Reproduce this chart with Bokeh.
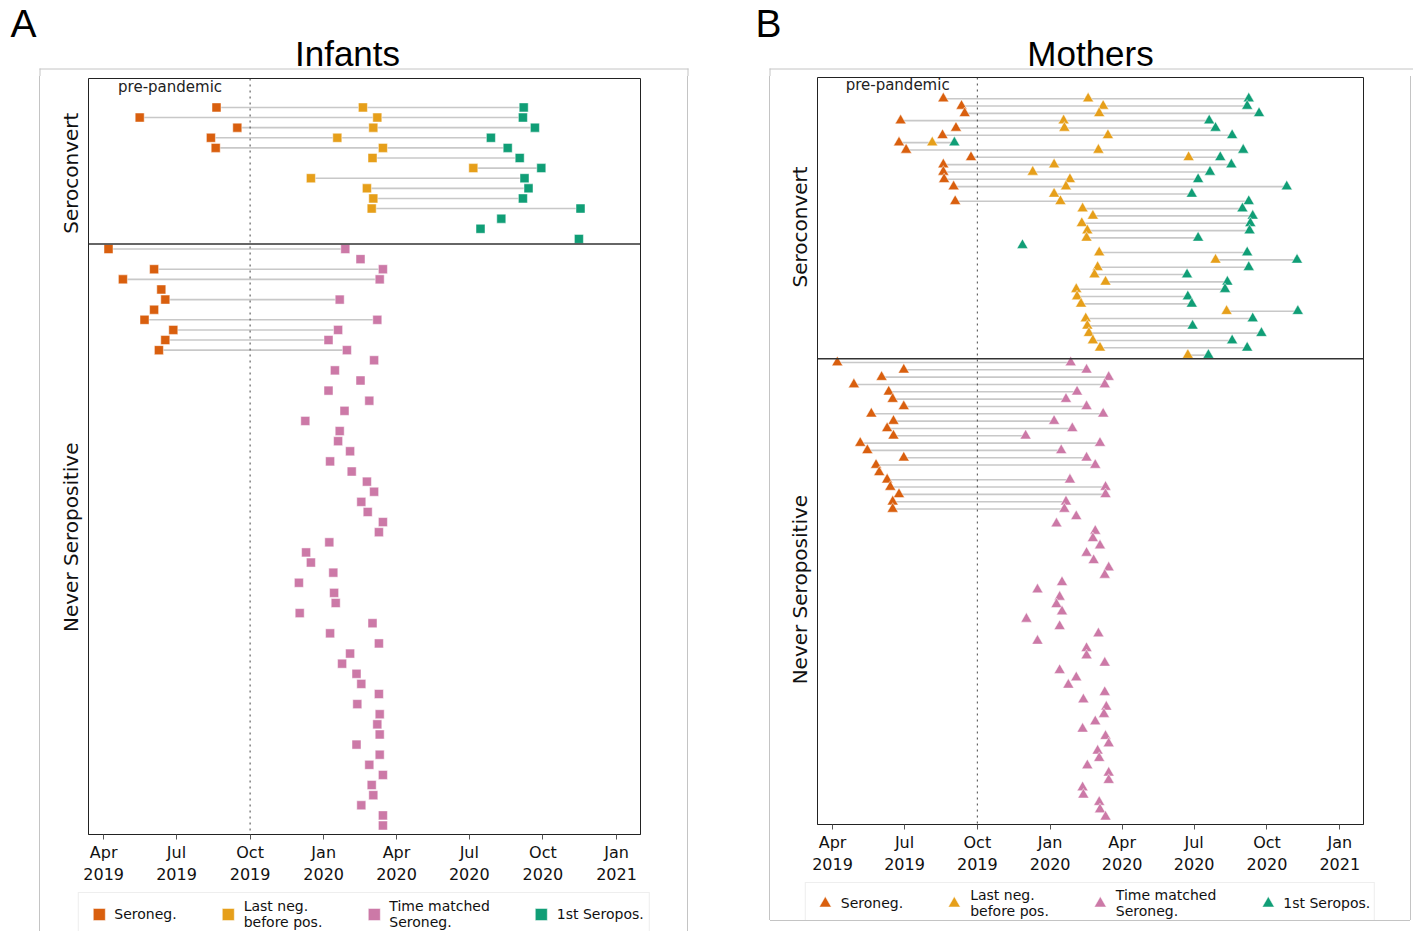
import numpy as np
import pandas as pd
from bokeh.plotting import figure
from bokeh.layouts import row, column
from bokeh.models import (Range1d, Span, Label, Legend, LegendItem, Spacer,
                          FixedTicker, DatetimeTickFormatter, ColumnDataSource)
from bokeh.embed import file_html
from bokeh.resources import INLINE

# ---------------- data ----------------
tick_dates = ["2019-04-01", "2019-07-01", "2019-10-01", "2020-01-01",
              "2020-04-01", "2020-07-01", "2020-10-01", "2021-01-01"]
tick_labels = ["Apr\n2019", "Jul\n2019", "Oct\n2019", "Jan\n2020",
               "Apr\n2020", "Jul\n2020", "Oct\n2020", "Jan\n2021"]
category_labels = ["Seroneg.", "Last neg.\nbefore pos.", "Time matched\nSeroneg.", "1st Seropos."]
group_labels = ["Seroconvert", "Never Seropositive"]
panel_titles = ["Infants", "Mothers"]
panel_letters = ["A", "B"]
pandemic_start = "2019-10-01"
x_start, x_end = "2019-03-13", "2021-01-31"

N = None
# Infants - seroconverters
inf_sc_seroneg = ["2019-08-20", "2019-05-16", "2019-09-15", "2019-08-13", "2019-08-19",
                  N, N, N, N, N, N, N, N, N]
inf_sc_lastneg = ["2020-02-19", "2020-03-08", "2020-03-03", "2020-01-18", "2020-03-15",
                  "2020-03-02", "2020-07-06", "2019-12-16", "2020-02-24", "2020-03-03",
                  "2020-03-01", N, N, N]
inf_sc_firstpos = ["2020-09-07", "2020-09-06", "2020-09-21", "2020-07-28", "2020-08-18",
                   "2020-09-02", "2020-09-29", "2020-09-08", "2020-09-13", "2020-09-06",
                   "2020-11-17", "2020-08-10", "2020-07-15", "2020-11-15"]
# Infants - never seropositive
inf_nv_seroneg = ["2019-04-07", N, "2019-06-03", "2019-04-25", "2019-06-12", "2019-06-17",
                  "2019-06-03", "2019-05-22", "2019-06-27", "2019-06-17", "2019-06-09"] + [N] * 47
inf_nv_matched = ["2020-01-28", "2020-02-16", "2020-03-15", "2020-03-11", N, "2020-01-21",
                  N, "2020-03-08", "2020-01-19", "2020-01-07", "2020-01-30", "2020-03-04",
                  "2020-01-15", "2020-02-16", "2020-01-07", "2020-02-27", "2020-01-27",
                  "2019-12-09", "2020-01-21", "2020-01-19", "2020-02-03", "2020-01-09",
                  "2020-02-05", "2020-02-24", "2020-03-04", "2020-02-17", "2020-02-25",
                  "2020-03-15", "2020-03-10", "2020-01-08", "2019-12-10", "2019-12-16",
                  "2020-01-13", "2019-12-01", "2020-01-14", "2020-01-16", "2019-12-02",
                  "2020-03-02", "2020-01-09", "2020-03-10", "2020-02-03", "2020-01-24",
                  "2020-02-11", "2020-02-17", "2020-03-10", "2020-02-12", "2020-03-11",
                  "2020-03-08", "2020-03-11", "2020-02-11", "2020-03-11", "2020-02-27",
                  "2020-03-15", "2020-03-01", "2020-03-03", "2020-02-17", "2020-03-15",
                  "2020-03-15"]

# Mothers - seroconverters
mom_sc_seroneg = ["2019-08-19", "2019-09-11", "2019-09-15", "2019-06-26", "2019-09-04",
                  "2019-08-18", "2019-06-24", "2019-07-03", "2019-09-23", "2019-08-19",
                  "2019-08-19", "2019-08-20", "2019-09-01", N, "2019-09-03"] + [N] * 21
mom_sc_lastneg = ["2020-02-18", "2020-03-08", "2020-03-03", "2020-01-18", "2020-01-19",
                  "2020-03-14", "2019-08-05", "2020-03-02", "2020-06-24", "2020-01-06",
                  "2019-12-10", "2020-01-26", "2020-01-21", "2020-01-06", "2020-01-14",
                  "2020-02-11", "2020-02-24", "2020-02-10", "2020-02-17", "2020-02-16",
                  N, "2020-03-03", "2020-07-28", "2020-03-01", "2020-02-26",
                  "2020-03-11", "2020-02-03", "2020-02-04", "2020-02-09", "2020-08-11",
                  "2020-02-15", "2020-02-17", "2020-02-19", "2020-02-24", "2020-03-04",
                  "2020-06-23"]
mom_sc_firstpos = ["2020-09-08", "2020-09-06", "2020-09-21", "2020-07-20", "2020-07-28",
                   "2020-08-18", "2019-09-02", "2020-09-01", "2020-08-03", "2020-08-17",
                   "2020-07-21", "2020-07-06", "2020-10-26", "2020-06-28", "2020-09-08",
                   "2020-08-31", "2020-09-13", "2020-09-10", "2020-09-09", "2020-07-06",
                   "2019-11-27", "2020-09-06", "2020-11-08", "2020-09-08", "2020-06-22",
                   "2020-08-12", "2020-08-09", "2020-06-23", "2020-06-28", "2020-11-09",
                   "2020-09-13", "2020-06-29", "2020-09-24", "2020-08-18", "2020-09-06",
                   "2020-07-19"]
# Mothers - never seropositive
mom_nv_seroneg = ["2019-04-07", "2019-06-30", "2019-06-02", "2019-04-28", "2019-06-11",
                  "2019-06-16", "2019-06-30", "2019-05-20", "2019-06-17", "2019-06-09",
                  "2019-06-17", "2019-05-06", "2019-05-15", "2019-06-30", "2019-05-26",
                  "2019-05-30", "2019-06-09", "2019-06-13", "2019-06-24", "2019-06-16",
                  "2019-06-16"] + [N] * 42
mom_nv_matched = ["2020-01-27", "2020-02-16", "2020-03-15", "2020-03-10", "2020-02-04",
                  "2020-01-21", "2020-02-16", "2020-03-08", "2020-01-06", "2020-01-29",
                  "2019-12-01", "2020-03-04", "2020-01-15", "2020-02-16", "2020-02-27",
                  N, "2020-01-26", "2020-03-11", "2020-03-11", "2020-01-21",
                  "2020-01-19", "2020-02-03", "2020-01-09", "2020-02-27", "2020-02-24",
                  "2020-03-04", "2020-02-16", "2020-02-25", "2020-03-15", "2020-03-10",
                  "2020-01-16", "2019-12-16", "2020-01-13", "2020-01-09", "2020-01-16",
                  "2019-12-02", "2020-01-13", "2020-03-02", "2019-12-16", "2020-02-16",
                  "2020-02-16", "2020-03-10", "2020-01-13", "2020-02-03", "2020-01-24",
                  "2020-03-10", "2020-02-12", "2020-03-12", "2020-03-09", "2020-02-27",
                  "2020-02-11", "2020-03-11", "2020-03-15", "2020-03-01", "2020-03-03",
                  "2020-02-17", "2020-03-15", "2020-03-15", "2020-02-11", "2020-02-12",
                  "2020-03-03", "2020-03-04", "2020-03-11"]

# ---------------- style ----------------
KEYS = ["neg", "last", "match", "pos"]
COLORS = {"neg": "#d95f0e", "last": "#e69f1a", "match": "#cc79a7", "pos": "#109e76"}
FONT = "DejaVu Sans"
TITLE_FONT = "Liberation Sans"
BOX_COLOR = "#c4c4c4"
PAGE_W = 1413
HEADER_H = 76
BOX_TOP = 68
# panel frame: side and bottom edges as box-shadows (no effect on layout)
BOX_STYLE = {"box-shadow": f"-1px 0 0 0 {BOX_COLOR}, 1px 0 0 0 {BOX_COLOR}, 0 1px 0 0 {BOX_COLOR}"}
NO_BORDER = dict(min_border=0, min_border_left=0, min_border_right=0,
                 min_border_top=0, min_border_bottom=0)


def ms(s):
    return pd.Timestamp(s).value / 1e6


def marker_kw(k, marker, msize):
    return dict(marker=marker, size=msize, fill_color=COLORS[k], line_color="white",
                line_alpha=0.6, line_width=0.8)


def build(sc_neg, sc_last, sc_pos, nv_neg, nv_match, marker, msize, cfg):
    n_sc = len(sc_pos)
    n_nv = len(nv_match)
    n = n_sc + n_nv
    rows = []
    for i in range(n_sc):
        rows.append({"neg": sc_neg[i], "last": sc_last[i], "pos": sc_pos[i]})
    for j in range(n_nv):
        rows.append({"neg": nv_neg[j], "match": nv_match[j]})
    pts = {k: {"x": [], "y": []} for k in KEYS}
    seg = {"x0": [], "x1": [], "y": []}
    for i, r in enumerate(rows):
        ds = []
        for k, v in r.items():
            if v:
                t = pd.Timestamp(v)
                pts[k]["x"].append(t)
                pts[k]["y"].append(i)
                ds.append(t)
        if len(ds) >= 2:
            seg["x0"].append(min(ds))
            seg["x1"].append(max(ds))
            seg["y"].append(i)

    p = figure(width=cfg["w"], height=cfg["h"], x_axis_type="datetime", title=None,
               x_range=Range1d(pd.Timestamp(x_start), pd.Timestamp(x_end)),
               y_range=Range1d(n - 1 + cfg["pad_bottom"], -cfg["pad_top"]),
               output_backend="svg", toolbar_location=None, frame_align=False,
               min_border_left=cfg["bl"], min_border_right=cfg["br"],
               min_border_top=cfg["bt"], min_border_bottom=cfg["bb"])
    p.xgrid.visible = False
    p.ygrid.visible = False
    p.outline_line_color = "#222222"
    p.outline_line_width = 1
    p.background_fill_color = "white"
    p.border_fill_color = "white"

    ax = p.xaxis[0]
    ax.ticker = FixedTicker(ticks=[ms(d) for d in tick_dates])
    ax.formatter = DatetimeTickFormatter(months="%b\n%Y", days="%b\n%Y")
    ax.major_label_overrides = {ms(d): lab for d, lab in zip(tick_dates, tick_labels)}
    ax.major_label_text_font = FONT
    ax.major_label_text_font_size = "16px"
    ax.major_label_text_color = "#111111"
    ax.major_label_standoff = 3
    ax.major_tick_out = 5
    ax.major_tick_in = 0
    ax.major_tick_line_color = "#555555"
    ax.minor_tick_line_color = None
    ax.axis_line_color = "#222222"

    ay = p.yaxis[0]
    y_centers = [(n_sc - 1) / 2, n_sc + (n_nv - 1) / 2]
    ay.ticker = FixedTicker(ticks=y_centers)
    ay.major_label_overrides = {c: lab for c, lab in zip(y_centers, group_labels)}
    ay.major_label_orientation = "vertical"
    ay.major_label_text_font = FONT
    ay.major_label_text_font_size = "20px"
    ay.major_label_text_color = "#111111"
    ay.major_label_standoff = 5
    ay.major_tick_out = 0
    ay.major_tick_in = 0
    ay.major_tick_line_color = None
    ay.minor_tick_line_color = None
    ay.axis_line_color = None

    p.segment(x0="x0", y0="y", x1="x1", y1="y", source=ColumnDataSource(seg),
              line_color="#c8c8c8", line_width=1.6)
    sources = {}
    for k in KEYS:
        sources[k] = ColumnDataSource(pts[k])
        p.scatter(x="x", y="y", source=sources[k], **marker_kw(k, marker, msize))

    p.add_layout(Span(location=ms(pandemic_start), dimension="height", line_color="#444444",
                      line_dash="dotted", line_width=1))
    p.add_layout(Span(location=n_sc - 0.5, dimension="width", line_color="#333333",
                      line_width=1.5))
    p.add_layout(Label(x=ms("2019-08-27"), y=cfg["pre_y"], text="pre-pandemic",
                       text_align="right", text_baseline="middle", text_font=FONT,
                       text_font_size="15px", text_color="#222222"))
    return p, sources


def legend_fig(w, h, marker, msize, pad, sources):
    # legend-only canvas: proxies share the panel's data, which lies outside this view
    lf = figure(width=w, height=h, x_range=Range1d(0, 1), y_range=Range1d(0, 1), title=None,
                output_backend="svg", toolbar_location=None, frame_align=False, **NO_BORDER)
    lf.axis.visible = False
    lf.grid.visible = False
    lf.outline_line_color = None
    lf.background_fill_color = "white"
    lf.border_fill_color = "white"
    items = []
    for i, k in enumerate(KEYS):
        r = lf.scatter(x="x", y="y", source=sources[k], **marker_kw(k, marker, msize))
        items.append(LegendItem(label=category_labels[i], renderers=[r]))
    leg = Legend(items=items, orientation="horizontal", location="top_center",
                 glyph_width=30, glyph_height=30, label_standoff=1, spacing=36,
                 padding=pad, margin=5, label_text_font=FONT,
                 label_text_font_size="14px", label_text_color="#111111",
                 border_line_color="#dddddd", border_line_width=1,
                 background_fill_color="white", background_fill_alpha=1)
    lf.add_layout(leg)
    return lf


cfgA = dict(w=647, h=811, bl=48, br=47, bt=2, bb=52, pad_top=2.86, pad_bottom=0.89, pre_y=-2.0)
cfgB = dict(w=640, h=801, bl=47, br=47, bt=1, bb=49, pad_top=2.89, pad_bottom=1.05, pre_y=-1.8)

pA, srcA = build(inf_sc_seroneg, inf_sc_lastneg, inf_sc_firstpos, inf_nv_seroneg,
                 inf_nv_matched, "square", 9, cfgA)
pB, srcB = build(mom_sc_seroneg, mom_sc_lastneg, mom_sc_firstpos, mom_nv_seroneg,
                 mom_nv_matched, "triangle", 11, cfgB)
lA = legend_fig(647, 44, "square", 9, 5, srcA)
lB = legend_fig(640, 43, "triangle", 11, 4, srcB)

# header: panel letters, titles and the top edges of the two panel boxes (pixel space)
hdr = figure(width=PAGE_W, height=HEADER_H, x_range=Range1d(0, PAGE_W),
             y_range=Range1d(HEADER_H, 0), output_backend="svg", toolbar_location=None,
             title=None, frame_align=False, **NO_BORDER)
hdr.axis.visible = False
hdr.grid.visible = False
hdr.outline_line_color = None
hdr.background_fill_color = "white"
hdr.border_fill_color = "white"
box_edges = [(39, 688), (769, PAGE_W)]
hdr.segment(x0=[a for a, b in box_edges], x1=[b for a, b in box_edges],
            y0=[BOX_TOP + 0.5] * 2, y1=[BOX_TOP + 0.5] * 2, line_color=BOX_COLOR, line_width=1)
vert_x = [39.5, 687.5, 769.5]
hdr.segment(x0=vert_x, x1=vert_x, y0=[BOX_TOP] * 3, y1=[HEADER_H] * 3,
            line_color=BOX_COLOR, line_width=1)
letter_pos = [(10, 22.5), (755, 22.5)]
title_pos = [(347, 53), (1090, 53)]
for (lx, ly), letter in zip(letter_pos, panel_letters):
    hdr.add_layout(Label(x=lx, y=ly, text=letter, text_align="left",
                         text_baseline="middle", text_font=TITLE_FONT,
                         text_font_size="39px", text_color="black"))
for (tx, ty), title in zip(title_pos, panel_titles):
    hdr.add_layout(Label(x=tx, y=ty, text=title, text_align="center",
                         text_baseline="middle", text_font=TITLE_FONT,
                         text_font_size="35px", text_color="black"))

colA = column(pA, lA, spacing=0, styles=BOX_STYLE)
colB = column(pB, lB, spacing=0, styles=BOX_STYLE)
layout = column(hdr,
                row(Spacer(width=40, height=855), colA, Spacer(width=83, height=844), colB,
                    spacing=0),
                spacing=0)
open("out.html", "w").write(file_html(layout, INLINE))
